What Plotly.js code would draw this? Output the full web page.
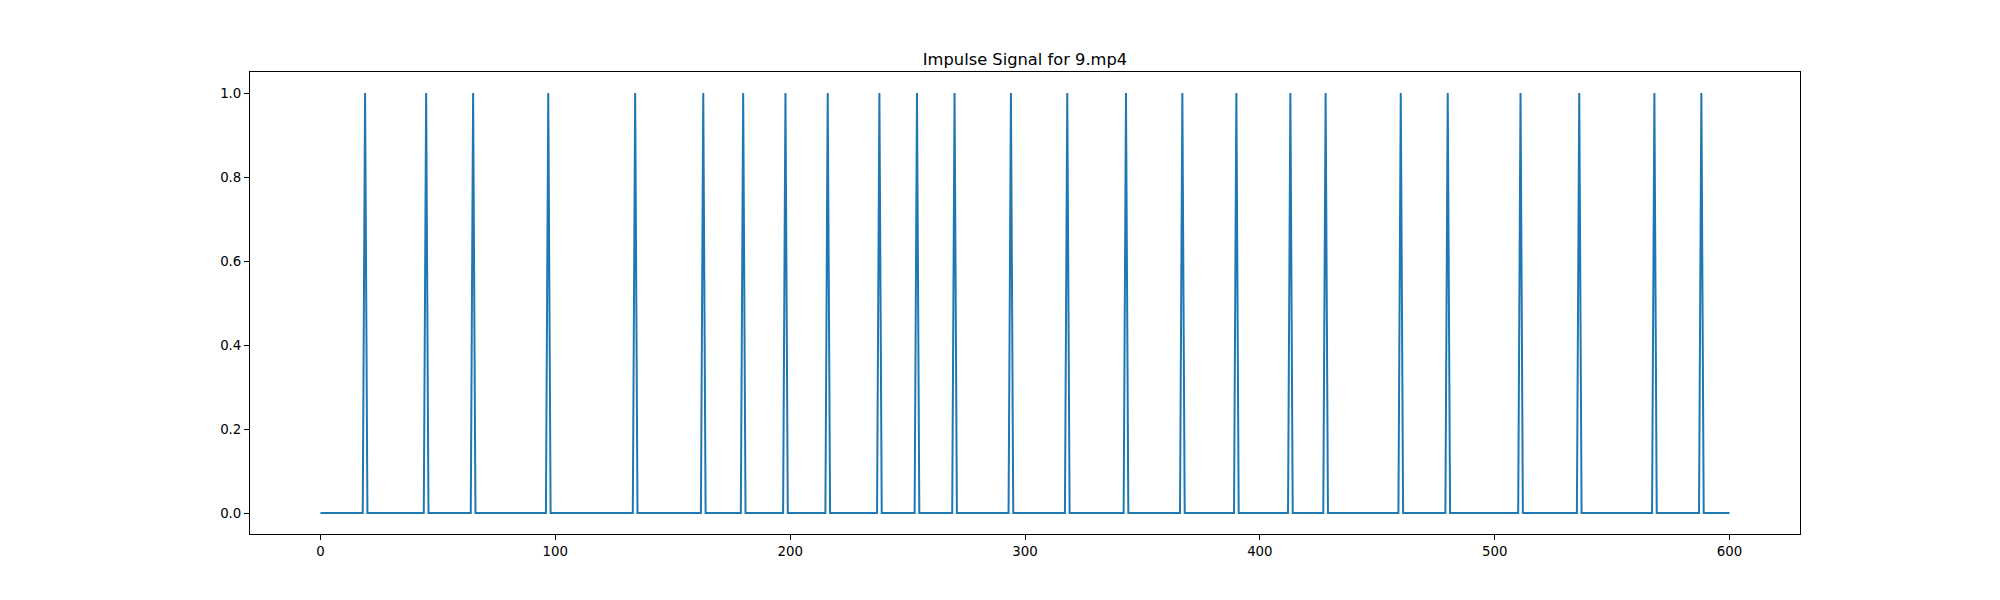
<!DOCTYPE html>
<html>
<head>
<meta charset="utf-8">
<script src="https://cdn.plot.ly/plotly-3.0.1.min.js"></script>
<style>
  html, body { margin: 0; padding: 0; background: #ffffff; }
  #chart { width: 2000px; height: 600px; }
</style>
</head>
<body>
<div id="chart"></div>
<script>
// Data
const chartTitle = "Impulse Signal for 9.mp4";
const frameCount = 601; // frames 0..600
const impulseFrames = [19, 45, 65, 97, 134, 163, 180, 198, 216, 238, 254, 270, 294,
                       318, 343, 367, 390, 413, 428, 460, 480, 511, 536, 568, 588];
const xTickVals = [0, 100, 200, 300, 400, 500, 600];
const yTickVals = [0.0, 0.2, 0.4, 0.6, 0.8, 1.0];

// Build the signal from the impulse list
const frames = [];
const signal = [];
const impulseSet = new Set(impulseFrames);
for (let i = 0; i < frameCount; i++) {
  frames.push(i);
  signal.push(impulseSet.has(i) ? 1 : 0);
}

const trace = {
  x: frames,
  y: signal,
  type: 'scatter',
  mode: 'lines',
  line: { color: '#1f77b4', width: 2 },
  hoverinfo: 'x+y'
};

const fontFamily = '"DejaVu Sans", Verdana, sans-serif';

const layout = {
  width: 2000,
  height: 600,
  paper_bgcolor: '#ffffff',
  plot_bgcolor: '#ffffff',
  showlegend: false,
  margin: { l: 250, r: 200, t: 72, b: 66, pad: 0 },
  font: { family: fontFamily, size: 13.33, color: '#000000' },
  title: {
    text: chartTitle,
    font: { family: fontFamily, size: 16.3, color: '#000000' },
    x: 0.5, xref: 'paper', xanchor: 'center',
    y: 1, yref: 'paper', yanchor: 'bottom',
    pad: { b: 7 }
  },
  xaxis: {
    range: [-30, 630],
    tickvals: xTickVals,
    ticktext: xTickVals.map(String),
    ticks: 'outside', ticklen: 5, tickwidth: 1, tickcolor: '#000000',
    showline: true, linecolor: '#000000', linewidth: 1, mirror: true,
    showgrid: false, zeroline: false,
    tickfont: { family: fontFamily, size: 13.33, color: '#000000' }
  },
  yaxis: {
    range: [-0.05, 1.05],
    tickvals: yTickVals,
    ticktext: yTickVals.map(v => v.toFixed(1)),
    ticks: 'outside', ticklen: 5, tickwidth: 1, tickcolor: '#000000',
    showline: true, linecolor: '#000000', linewidth: 1, mirror: true,
    showgrid: false, zeroline: false,
    tickfont: { family: fontFamily, size: 13.33, color: '#000000' }
  }
};

Plotly.newPlot('chart', [trace], layout, { displayModeBar: false, staticPlot: false });
</script>
</body>
</html>
